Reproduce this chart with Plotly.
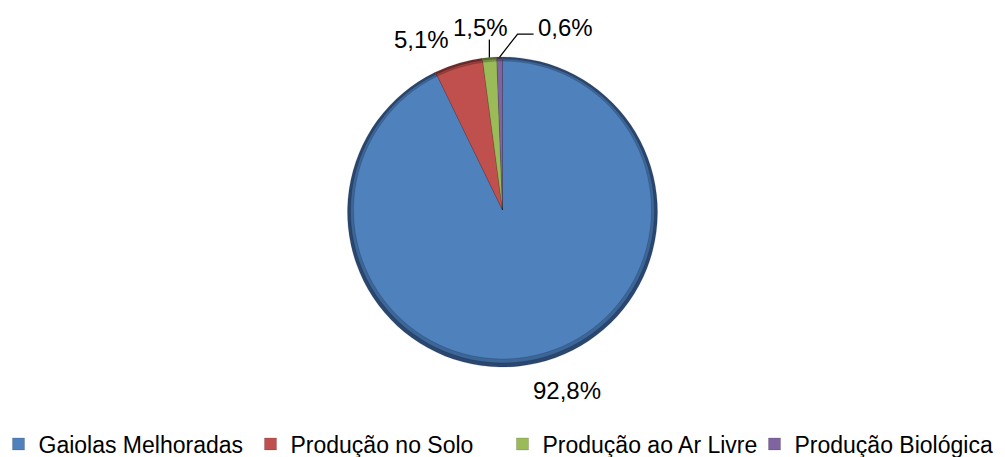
import math
import plotly.graph_objects as go

categories = ["Gaiolas Melhoradas", "Produção no Solo", "Produção ao Ar Livre", "Produção Biológica"]
values = [92.8, 5.1, 1.5, 0.6]
main_colors = ["#4F81BD", "#C0504D", "#9BBB59", "#8064A2"]
rim_dark = ["#2A4770", "#6E2B29", "#56702F", "#463759"]
rim_mid = ["#3D6698", "#9A403D", "#7C9647", "#664F82"]

W, H = 1005, 457
FONT = "Liberation Sans, Arial, sans-serif"

# pie geometry (paper fractions)
top_px, bottom_px = 57, 367
dom_outer_y = [(H - bottom_px) / H, (H - top_px) / H]
dom_mid_y = [(H - bottom_px + 4) / H, (H - top_px - 2) / H]
dom_inner_y = [(H - bottom_px + 8) / H, (H - top_px - 4) / H]
cx_px = W * 0.5
cy_px = (top_px + bottom_px) / 2
R_px = (bottom_px - top_px) / 2

# label offsets (pixels, from slice outer edge at mid angle) and leader-line style
label_offsets = [(30, 27), (-36, -24), (-9, -30), (66, -30)]
leader = [None, None, "vertical", "elbow"]


def px_to_paper(x, y):
    return x / W, 1 - y / H


fig = go.Figure()

for cols, dom, show in [(rim_dark, dom_outer_y, False), (rim_mid, dom_mid_y, False),
                        (main_colors, dom_inner_y, True)]:
    fig.add_trace(go.Pie(
        labels=categories, values=values, sort=False, direction="clockwise", rotation=0,
        marker=dict(colors=cols, line=dict(color="rgba(0,0,0,0.3)", width=0.5)),
        textinfo="none",
        domain=dict(x=[0, 1], y=dom),
        showlegend=show, hoverinfo="label+percent" if show else "skip",
    ))

total = sum(values)
cum = 0.0
annotations = []
shapes = []
for i, v in enumerate(values):
    mid = (cum + v / 2) / total * 2 * math.pi
    cum += v
    ex = cx_px + R_px * math.sin(mid)
    ey = cy_px - R_px * math.cos(mid)
    ox, oy = label_offsets[i]
    lx, ly = ex + ox, ey + oy
    txt = f"{v:.1f}".replace(".", ",") + "%"
    px, py = px_to_paper(lx, ly)
    annotations.append(dict(
        x=px, y=py, xref="paper", yref="paper", text=txt, showarrow=False,
        xanchor="center", yanchor="middle",
        font=dict(family=FONT, size=24, color="#000000"),
    ))
    if leader[i] == "vertical":
        x0, y0 = px_to_paper(ex, ey)
        x1, y1 = px_to_paper(ex, ly + 12)
        shapes.append(dict(type="line", xref="paper", yref="paper", x0=x0, y0=y0, x1=x1, y1=y1,
                           line=dict(color="#000000", width=1.3)))
    elif leader[i] == "elbow":
        a = px_to_paper(ex, ey)
        b = px_to_paper(ex + 18, ly + 7)
        c = px_to_paper(lx - 32, ly + 7)
        path = f"M {a[0]},{a[1]} L {b[0]},{b[1]} L {c[0]},{c[1]}"
        shapes.append(dict(type="path", xref="paper", yref="paper", path=path,
                           line=dict(color="#000000", width=1.3)))

fig.update_layout(
    width=W, height=H,
    margin=dict(l=0, r=0, t=0, b=0, autoexpand=False),
    paper_bgcolor="white", plot_bgcolor="white",
    font=dict(family=FONT, size=23, color="#000000"),
    annotations=annotations,
    shapes=shapes,
    legend=dict(orientation="h", x=0.5, xanchor="center",
                y=1 - 444 / H, yanchor="middle", yref="paper",
                font=dict(family=FONT, size=23, color="#000000"),
                itemwidth=30, entrywidth=207, traceorder="normal"),
)

fig.write_html("out.html", config={"displayModeBar": False},
               post_script="document.body.style.margin='0px';")
